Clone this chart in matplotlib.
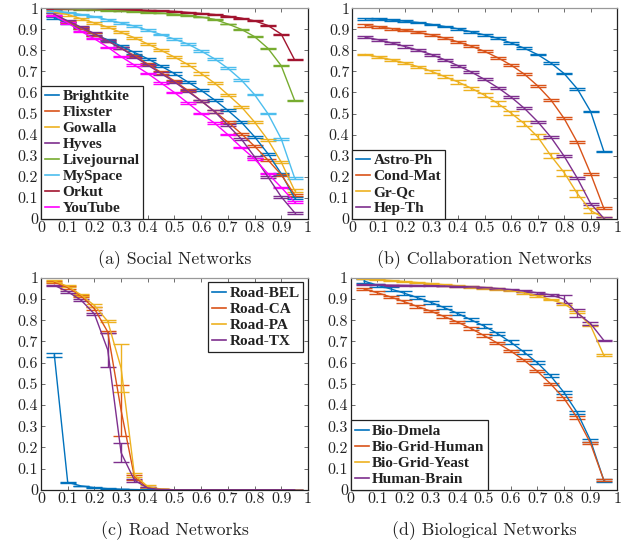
import matplotlib
matplotlib.use("Agg")
import matplotlib.pyplot as plt
from matplotlib.lines import Line2D
from matplotlib.ticker import MultipleLocator, FormatStrFormatter

plt.rcParams['axes.formatter.use_mathtext'] = True

# fraction of removed nodes
x = [0.05, 0.10, 0.15, 0.20, 0.25, 0.30, 0.35, 0.40, 0.45, 0.50,
     0.55, 0.60, 0.65, 0.70, 0.75, 0.80, 0.85, 0.90, 0.95]

# MATLAB-ish colour order
c_blue = '#0072BD'
c_orange = '#D95319'
c_yellow = '#EDB120'
c_purple = '#7E2F8E'
c_green = '#77AC30'
c_cyan = '#4DBEEE'
c_red = '#A2142F'
c_magenta = '#FF00FF'

# ---- (a) social networks
brightkite = [0.955, 0.93, 0.905, 0.875, 0.85, 0.82, 0.79, 0.76, 0.725, 0.69,
              0.65, 0.61, 0.565, 0.515, 0.46, 0.39, 0.31, 0.215, 0.10]
flixster = [0.97, 0.935, 0.905, 0.875, 0.845, 0.81, 0.775, 0.735, 0.695, 0.655,
            0.61, 0.56, 0.51, 0.46, 0.405, 0.345, 0.28, 0.21, 0.115]
gowalla = [0.98, 0.97, 0.95, 0.93, 0.91, 0.885, 0.86, 0.83, 0.80, 0.768,
           0.733, 0.69, 0.645, 0.59, 0.533, 0.46, 0.375, 0.27, 0.135]
hyves = [0.97, 0.94, 0.91, 0.88, 0.845, 0.81, 0.77, 0.73, 0.69, 0.65,
         0.605, 0.56, 0.51, 0.445, 0.38, 0.295, 0.20, 0.105, 0.03]
livejournal = [0.998, 0.997, 0.995, 0.993, 0.99, 0.987, 0.984, 0.98, 0.977, 0.972,
               0.966, 0.958, 0.947, 0.925, 0.90, 0.865, 0.81, 0.727, 0.563]
myspace = [0.987, 0.98, 0.97, 0.96, 0.945, 0.93, 0.915, 0.895, 0.875, 0.853,
           0.83, 0.797, 0.76, 0.715, 0.66, 0.59, 0.50, 0.38, 0.195]
orkut = [1.0, 1.0, 0.999, 0.998, 0.997, 0.995, 0.993, 0.99, 0.988, 0.985,
         0.98, 0.975, 0.97, 0.962, 0.953, 0.94, 0.918, 0.877, 0.755]
youtube = [0.965, 0.93, 0.89, 0.855, 0.815, 0.77, 0.73, 0.69, 0.645, 0.60,
           0.55, 0.50, 0.455, 0.40, 0.34, 0.285, 0.215, 0.15, 0.08]

# ---- (b) collaboration networks
astro_ph = [0.95, 0.948, 0.943, 0.938, 0.932, 0.923, 0.913, 0.902, 0.888, 0.873,
            0.857, 0.835, 0.81, 0.78, 0.74, 0.69, 0.617, 0.51, 0.32]
cond_mat = [0.918, 0.912, 0.903, 0.895, 0.885, 0.873, 0.858, 0.84, 0.82, 0.795,
            0.765, 0.73, 0.687, 0.632, 0.565, 0.477, 0.363, 0.215, 0.05]
gr_qc = [0.78, 0.768, 0.755, 0.74, 0.722, 0.70, 0.675, 0.65, 0.62, 0.587,
         0.548, 0.502, 0.452, 0.39, 0.30, 0.22, 0.12, 0.04, 0.005]
hep_th = [0.862, 0.85, 0.835, 0.818, 0.80, 0.78, 0.755, 0.727, 0.697, 0.662,
          0.623, 0.578, 0.525, 0.462, 0.388, 0.298, 0.193, 0.073, 0.003]
gr_qc_err = [0.004, 0.004, 0.005, 0.005, 0.006, 0.007, 0.007, 0.008, 0.008, 0.009,
             0.010, 0.011, 0.011, 0.012, 0.013, 0.014, 0.015, 0.010, 0.006]

# ---- (c) road networks
road_bel = [0.635, 0.035, 0.018, 0.01, 0.005, 0.002, 0.001, 0.0, 0.0, 0.0,
            0.0, 0.0, 0.0, 0.0, 0.0, 0.0, 0.0, 0.0, 0.0]
road_ca = [0.98, 0.955, 0.915, 0.855, 0.745, 0.375, 0.06, 0.01, 0.002, 0.0,
           0.0, 0.0, 0.0, 0.0, 0.0, 0.0, 0.0, 0.0, 0.0]
road_pa = [0.985, 0.96, 0.92, 0.87, 0.795, 0.575, 0.07, 0.015, 0.003, 0.0,
           0.0, 0.0, 0.0, 0.0, 0.0, 0.0, 0.0, 0.0, 0.0]
road_tx = [0.965, 0.935, 0.895, 0.83, 0.66, 0.175, 0.045, 0.008, 0.001, 0.0,
           0.0, 0.0, 0.0, 0.0, 0.0, 0.0, 0.0, 0.0, 0.0]
road_bel_err = [0.01, 0.003, 0.002, 0.002, 0.001, 0.0, 0.0, 0.0, 0.0, 0.0,
                0.0, 0.0, 0.0, 0.0, 0.0, 0.0, 0.0, 0.0, 0.0]
road_ca_err = [0.004, 0.005, 0.006, 0.006, 0.006, 0.12, 0.012, 0.004, 0.001, 0.0,
               0.0, 0.0, 0.0, 0.0, 0.0, 0.0, 0.0, 0.0, 0.0]
road_pa_err = [0.004, 0.005, 0.006, 0.006, 0.004, 0.115, 0.01, 0.006, 0.001, 0.0,
               0.0, 0.0, 0.0, 0.0, 0.0, 0.0, 0.0, 0.0, 0.0]
road_tx_err = [0.003, 0.004, 0.005, 0.005, 0.08, 0.045, 0.008, 0.004, 0.001, 0.0,
               0.0, 0.0, 0.0, 0.0, 0.0, 0.0, 0.0, 0.0, 0.0]

# ---- (d) biological networks
bio_dmela = [0.985, 0.965, 0.948, 0.928, 0.907, 0.885, 0.86, 0.833, 0.803, 0.773,
             0.738, 0.697, 0.65, 0.60, 0.538, 0.46, 0.365, 0.233, 0.045]
bio_grid_human = [0.948, 0.93, 0.91, 0.888, 0.865, 0.843, 0.818, 0.792, 0.762, 0.728,
                  0.693, 0.655, 0.612, 0.56, 0.50, 0.432, 0.34, 0.22, 0.045]
bio_grid_yeast = [0.998, 0.993, 0.988, 0.983, 0.978, 0.973, 0.968, 0.963, 0.958, 0.953,
                  0.948, 0.94, 0.93, 0.915, 0.898, 0.878, 0.838, 0.775, 0.635]
human_brain = [0.968, 0.967, 0.966, 0.965, 0.964, 0.963, 0.962, 0.96, 0.958, 0.955,
               0.95, 0.945, 0.938, 0.93, 0.92, 0.90, 0.835, 0.785, 0.705]
human_brain_err = [0.002, 0.002, 0.002, 0.002, 0.002, 0.002, 0.002, 0.002, 0.002, 0.003,
                   0.003, 0.003, 0.003, 0.004, 0.004, 0.02, 0.02, 0.008, 0.003]

panels = [
    ([('Brightkite', brightkite, 0.005, c_blue),
      ('Flixster', flixster, 0.005, c_orange),
      ('Gowalla', gowalla, 0.005, c_yellow),
      ('Hyves', hyves, 0.005, c_purple),
      ('Livejournal', livejournal, 0.002, c_green),
      ('MySpace', myspace, 0.004, c_cyan),
      ('Orkut', orkut, 0.002, c_red),
      ('YouTube', youtube, 0.003, c_magenta)],
     '(a) Social Networks', 'lower left'),
    ([('Astro-Ph', astro_ph, 0.004, c_blue),
      ('Cond-Mat', cond_mat, 0.005, c_orange),
      ('Gr-Qc', gr_qc, gr_qc_err, c_yellow),
      ('Hep-Th', hep_th, 0.005, c_purple)],
     '(b) Collaboration Networks', 'lower left'),
    ([('Road-BEL', road_bel, road_bel_err, c_blue),
      ('Road-CA', road_ca, road_ca_err, c_orange),
      ('Road-PA', road_pa, road_pa_err, c_yellow),
      ('Road-TX', road_tx, road_tx_err, c_purple)],
     '(c) Road Networks', 'upper right'),
    ([('Bio-Dmela', bio_dmela, 0.008, c_blue),
      ('Bio-Grid-Human', bio_grid_human, 0.006, c_orange),
      ('Bio-Grid-Yeast', bio_grid_yeast, 0.004, c_yellow),
      ('Human-Brain', human_brain, human_brain_err, c_purple)],
     '(d) Biological Networks', 'lower left'),
]

# axes boxes [left, bottom, width, height] in figure fractions
boxes = [
    [0.065, 0.599, 0.423, 0.386],
    [0.558, 0.599, 0.420, 0.386],
    [0.065, 0.103, 0.423, 0.388],
    [0.556, 0.103, 0.422, 0.388],
]

fig = plt.figure(figsize=(6.31, 5.46), dpi=100)

for (series, caption, loc), box in zip(panels, boxes):
    ax = fig.add_axes(box)
    handles = []
    for name, y, err, col in series:
        ax.errorbar(x, y, yerr=err, color=col, lw=1.0, elinewidth=1.0,
                    capsize=5.5, capthick=1.0)
        handles.append(Line2D([], [], color=col, lw=1.2, label=name))
    ax.set_xlim(0, 1)
    ax.set_ylim(0, 1)
    ax.xaxis.set_major_locator(MultipleLocator(0.1))
    ax.yaxis.set_major_locator(MultipleLocator(0.1))
    ax.xaxis.set_major_formatter(FormatStrFormatter('%g'))
    ax.yaxis.set_major_formatter(FormatStrFormatter('%g'))
    ax.tick_params(direction='in', length=3, width=0.6, top=True, right=True,
                   labelsize=11.5, pad=2, colors='#555555', labelcolor='#222222')
    for lab in ax.get_xticklabels() + ax.get_yticklabels():
        lab.set_family('cmr10')
    for s in ax.spines.values():
        s.set_linewidth(0.9)
        s.set_color('#222222')
    ax.spines['top'].set_color('#999999')

    pad = 0.3 if loc == 'upper right' else 0.0
    leg = ax.legend(handles=handles, loc=loc, borderaxespad=pad,
                    handlelength=0.95, handletextpad=0.2,
                    labelspacing=0.15, borderpad=0.25, fancybox=False,
                    framealpha=1, edgecolor='#222222',
                    prop={'family': 'Liberation Serif', 'weight': 'bold', 'size': 11})
    leg.get_frame().set_linewidth(0.9)
    for t in leg.get_texts():
        t.set_color('#222222')

    cx = box[0] + box[2] / 2
    fig.text(cx, box[1] - 0.075, caption, ha='center', va='center',
             family='cmr10', fontsize=12.8, color='#222222')

fig.savefig('out.png', dpi=100)
